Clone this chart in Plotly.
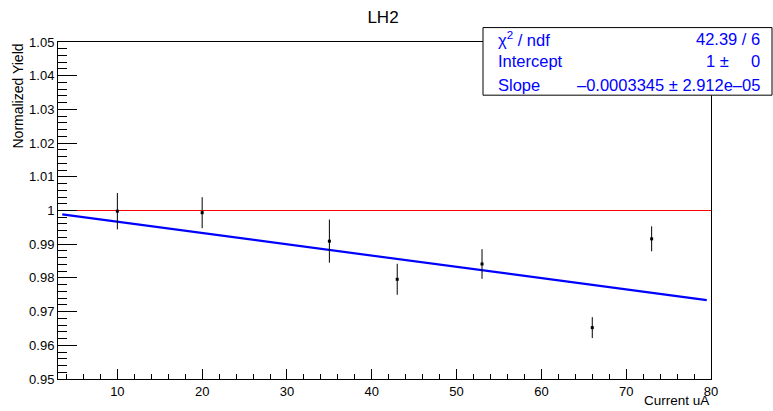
import plotly.graph_objects as go

# Data
current = [10, 20, 35, 43, 53, 66, 73]
yield_norm = [0.9998, 0.99935, 0.9909, 0.97959, 0.98413, 0.96525, 0.99159]
yield_err = [0.0054, 0.0046, 0.0064, 0.0046, 0.0044, 0.0031, 0.0037]

fit_intercept = 1.0
fit_slope = -0.0003345
fit_range = [3.5, 79.5]
ref_level = 1.0
x_range = [3, 80]
y_range = [0.95, 1.05]

x_ticks = [10, 20, 30, 40, 50, 60, 70, 80]
y_ticks = [0.95, 0.96, 0.97, 0.98, 0.99, 1.0, 1.01, 1.02, 1.03, 1.04, 1.05]
y_ticktext = ["0.95", "0.96", "0.97", "0.98", "0.99", "1", "1.01", "1.02", "1.03", "1.04", "1.05"]

stats_labels = ["χ<sup>2</sup> / ndf", "Intercept", "Slope"]
stats_values = ["42.39 / 6", None, "–0.0003345 ± 2.912e–05"]

W, H = 773, 411
L, R, T, B = 58, 711, 42, 381
pw, ph = R - L, B - T


def px(xp):
    return (xp - L) / pw


def py(yp):
    return (B - yp) / ph


font = "Liberation Sans, Arial, Helvetica, sans-serif"

fig = go.Figure()

fig.add_trace(go.Scatter(
    x=x_range, y=[ref_level, ref_level], mode="lines",
    line=dict(color="#ff0000", width=1), hoverinfo="skip", showlegend=False))

fig.add_trace(go.Scatter(
    x=fit_range, y=[fit_intercept + fit_slope * v for v in fit_range], mode="lines",
    line=dict(color="#0000ff", width=2.2), showlegend=False))

fig.add_trace(go.Scatter(
    x=current, y=yield_norm, mode="markers",
    marker=dict(symbol="square", size=3, color="black"),
    error_y=dict(type="data", array=yield_err, visible=True, color="black", thickness=1, width=0),
    showlegend=False))

fig.update_layout(
    width=W, height=H,
    margin=dict(l=L, r=W - R, t=T, b=H - B),
    paper_bgcolor="white", plot_bgcolor="white",
    font=dict(family=font, color="black"),
    title=dict(text="LH2", x=383 / W, xanchor="center", y=1 - 17 / H, yanchor="middle",
               font=dict(size=17, family=font, color="black")),
    xaxis=dict(range=x_range, tickvals=x_ticks, ticks="inside", ticklen=10, tickwidth=1,
               tickcolor="black", showline=True, linecolor="black", linewidth=1, mirror=True,
               showgrid=False, zeroline=False, tickfont=dict(size=13),
               minor=dict(dtick=2, tick0=0, ticks="inside", ticklen=5, tickcolor="black", showgrid=False)),
    yaxis=dict(range=y_range, tickvals=y_ticks, ticktext=y_ticktext, ticks="inside", ticklen=19,
               tickwidth=1, tickcolor="black", showline=True, linecolor="black", linewidth=1,
               mirror=True, showgrid=False, zeroline=False, tickfont=dict(size=13),
               minor=dict(dtick=0.002, tick0=0.95, ticks="inside", ticklen=9, tickcolor="black", showgrid=False)),
)

annotations = [
    dict(text="Normalized Yield", textangle=-90, xref="paper", yref="paper",
         x=px(17), y=1.0, xanchor="center", yanchor="top", showarrow=False,
         font=dict(size=14, family=font, color="black")),
    dict(text="Current uA", xref="paper", yref="paper", x=1.0, y=py(403),
         xanchor="right", yanchor="middle", showarrow=False,
         font=dict(size=13.5, family=font, color="black")),
]

# stats box
fig.add_shape(type="rect", xref="paper", yref="paper",
              x0=px(483), x1=px(772), y0=py(95.5), y1=py(27.5),
              fillcolor="white", line=dict(color="black", width=1))

rows_y = [39, 61.5, 85]
blue = "#0000ff"
fs = 16.5
for lab, yy in zip(stats_labels, rows_y):
    annotations.append(dict(text=lab, xref="paper", yref="paper", x=px(496), y=py(yy),
                            xanchor="left", yanchor="middle", showarrow=False,
                            font=dict(size=fs, family=font, color=blue)))
for val, yy in zip(stats_values, rows_y):
    if val is None:
        continue
    annotations.append(dict(text=val, xref="paper", yref="paper", x=px(762), y=py(yy),
                            xanchor="right", yanchor="middle", showarrow=False,
                            font=dict(size=fs, family=font, color=blue)))
annotations.append(dict(text="1 ±", xref="paper", yref="paper", x=px(731), y=py(rows_y[1]),
                        xanchor="right", yanchor="middle", showarrow=False,
                        font=dict(size=fs, family=font, color=blue)))
annotations.append(dict(text="0", xref="paper", yref="paper", x=px(762), y=py(rows_y[1]),
                        xanchor="right", yanchor="middle", showarrow=False,
                        font=dict(size=fs, family=font, color=blue)))

fig.update_layout(annotations=annotations)

fig.write_html("out.html", config={"displayModeBar": False},
               post_script="document.body.style.margin='0';document.body.style.overflow='hidden';")
